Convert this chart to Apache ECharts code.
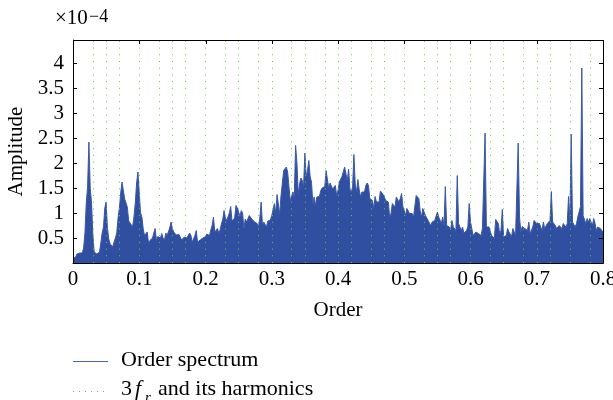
<!DOCTYPE html>
<html>
<head>
<meta charset="utf-8">
<script src="https://cdn.jsdelivr.net/npm/echarts@6/dist/echarts.min.js"></script>
<style>
  html, body { margin: 0; padding: 0; background: #fff; }
  #chart { width: 613px; height: 400px; }
</style>
</head>
<body>
<div id="chart"></div>
<script>
// Order spectrum amplitude (units of 1e-4), sampled every ORDER_STEP in order.
const ORDER_STEP = 0.002;

// orders 0.000 - 0.158
const ampBand1 = [
  0.09,0.1,0.12,0.18,0.15,0.2,0.22,0.2,0.3,0.6,
  1.2,1.52,2.42,1.5,1.2,0.55,0.22,0.2,0.18,0.2,
  0.22,0.4,0.6,0.72,1.1,1.22,0.7,0.48,0.38,0.34,
  0.33,0.42,0.5,0.6,0.9,1.1,1.4,1.62,1.45,1.28,
  1.25,1.12,0.85,0.8,0.78,0.73,0.92,1.2,1.6,1.82,
  1.4,1.0,0.92,0.68,0.55,0.52,0.62,0.4,0.45,0.44,
  0.5,0.6,0.69,0.45,0.53,0.5,0.5,0.59,0.5,0.45,
  0.6,0.55,0.53,0.7,0.82,0.69,0.62,0.59,0.56,0.58
];
// orders 0.160 - 0.318
const ampBand2 = [
  0.57,0.59,0.46,0.5,0.52,0.49,0.5,0.52,0.6,0.55,
  0.42,0.41,0.55,0.65,0.42,0.44,0.46,0.5,0.5,0.53,
  0.53,0.58,0.6,0.55,0.66,0.75,0.92,0.62,0.64,0.69,
  0.6,0.66,0.78,0.87,1.05,0.9,0.85,0.86,1.0,1.13,
  0.84,0.84,0.9,1.15,1.1,1.02,0.93,1.05,1.0,0.69,
  0.88,0.82,0.84,0.95,0.93,0.88,0.85,0.82,0.8,0.79,
  0.72,0.9,1.22,0.76,0.82,0.84,0.72,0.84,0.85,0.86,
  0.95,0.95,1.19,1.0,1.37,1.37,0.98,1.35,1.37,1.85
];
// orders 0.320 - 0.478
const ampBand3 = [
  1.88,1.92,1.82,1.52,1.25,1.27,1.42,1.32,2.35,2.0,
  1.38,1.58,1.7,1.65,1.53,2.2,1.72,1.85,2.05,1.72,
  1.62,1.19,1.32,1.15,1.32,1.32,1.33,1.45,1.5,1.52,
  1.53,1.85,1.85,1.5,1.6,1.58,1.48,1.52,1.55,1.35,
  1.45,1.62,1.65,1.73,1.73,1.92,1.88,1.65,1.88,1.48,
  1.42,1.5,2.17,1.58,1.42,1.67,1.47,1.32,1.42,1.45,
  1.42,1.55,1.6,1.55,1.29,1.31,1.25,1.09,1.33,1.22,
  1.19,1.22,1.44,1.4,1.37,1.32,1.25,1.24,1.22,0.92
];
// orders 0.480 - 0.638
const ampBand4 = [
  0.99,1.19,1.22,1.12,1.32,1.33,1.22,1.29,1.39,1.12,
  1.05,0.95,1.09,1.12,0.99,0.95,0.99,0.92,0.91,1.35,
  1.35,1.29,1.05,0.92,1.09,1.12,0.95,0.95,0.85,0.82,
  0.75,0.82,0.8,0.85,0.89,1.02,0.92,0.89,0.79,0.92,
  0.75,1.53,0.75,0.73,0.72,0.67,0.85,0.72,0.75,0.65,
  1.75,0.79,0.75,0.65,0.72,0.6,0.62,0.65,0.72,1.19,
  0.82,0.85,0.55,0.52,0.62,0.6,0.59,0.59,0.55,0.69,
  0.72,2.6,0.72,0.69,0.72,0.62,0.55,0.59,0.49,0.87
];
// orders 0.640 - 0.800
const ampBand5 = [
  0.85,0.79,0.59,0.65,1.07,0.52,0.49,0.55,0.69,0.62,
  0.65,0.53,0.69,0.65,0.55,0.52,2.4,0.92,0.62,0.73,
  0.72,0.69,0.72,0.65,0.82,0.59,0.6,0.72,0.85,0.89,
  0.79,0.75,0.79,0.75,0.65,0.82,0.69,0.65,0.79,0.75,
  0.85,1.43,0.82,0.79,0.75,0.69,0.69,0.75,0.72,0.69,
  0.79,0.75,0.72,0.79,1.33,0.85,2.58,0.82,0.79,0.72,
  0.79,0.92,0.95,1.13,3.9,0.95,0.99,0.79,0.89,0.82,
  0.89,0.85,0.75,0.89,0.79,0.65,0.72,0.75,0.69,0.65,
  0.62
];

// 3 f_r and its harmonics (order)
const harmonicOrders = [
  0.025,0.05,0.075,0.1,0.125,0.15,0.175,0.2,0.225,0.25,0.275,0.3,
  0.325,0.35,0.375,0.4,0.425,0.45,0.475,0.5,0.525,0.55,0.575,0.6,
  0.625,0.65,0.675,0.7,0.725,0.75,0.775,0.8
];

const xTicks = [0, 0.1, 0.2, 0.3, 0.4, 0.5, 0.6, 0.7, 0.8];
const yTicks = [0.5, 1, 1.5, 2, 2.5, 3, 3.5, 4];
const X_MAX = 0.8;
const Y_MAX = 4.46;

(() => {
  const amplitude = [].concat(ampBand1, ampBand2, ampBand3, ampBand4, ampBand5);
  const spectrum = amplitude.map((a, i) => [+(i * ORDER_STEP).toFixed(3), a]);

  const FONT = '"Liberation Serif", "DejaVu Serif", serif';
  const BLUE = '#304fa0';
  const GREEN = '#66c840';
  const FS = 21;
  const FS_LEGEND = 22;

  const isTick = (list, v) => list.some(t => Math.abs(t - v) < 1e-6);

  const chart = echarts.init(document.getElementById('chart'), null, { renderer: 'canvas' });
  chart.setOption({
    animation: false,
    grid: { left: 73, right: 10, top: 40, bottom: 137, outerBoundsMode: 'none', containLabel: false },
    xAxis: {
      type: 'value', position: 'bottom', min: 0, max: X_MAX, interval: 0.1,
      axisLine: { show: true, onZero: false, lineStyle: { color: '#000', width: 1 } },
      axisTick: { show: true, inside: true, length: 4, lineStyle: { color: '#000', width: 1 } },
      splitLine: { show: false },
      axisLabel: {
        show: true, fontFamily: FONT, fontSize: FS, color: '#000', margin: 6,
        formatter: v => isTick(xTicks, v) ? String(+v.toFixed(1)) : ''
      },
      name: 'Order', nameLocation: 'middle', nameGap: 37,
      nameTextStyle: { fontFamily: FONT, fontSize: FS, color: '#000' }
    },
    yAxis: {
      type: 'value', position: 'left', min: 0, max: Y_MAX, interval: 0.5,
      axisLine: { show: true, onZero: false, lineStyle: { color: '#000', width: 1 } },
      axisTick: { show: true, inside: true, length: 4, lineStyle: { color: '#000', width: 1 } },
      splitLine: { show: false },
      axisLabel: {
        show: true, fontFamily: FONT, fontSize: FS, color: '#000', margin: 9,
        formatter: v => isTick(yTicks, v) ? String(+v.toFixed(1)) : ''
      },
      name: 'Amplitude', nameLocation: 'middle', nameGap: 43, nameRotate: 90,
      nameTextStyle: { fontFamily: FONT, fontSize: FS, color: '#000' }
    },
    series: [
      {
        name: '3 f_r and its harmonics',
        type: 'line',
        data: [],
        z: 1,
        markLine: {
          silent: true,
          symbol: 'none',
          label: { show: false },
          lineStyle: { type: [1, 5.7], color: GREEN, width: 1 },
          data: harmonicOrders.map(o => ({ xAxis: o }))
        }
      },
      {
        name: 'Order spectrum',
        type: 'line',
        data: spectrum,
        symbol: 'none',
        z: 2,
        lineStyle: { color: '#3a58aa', width: 1 },
        areaStyle: { color: BLUE, opacity: 1 }
      }
    ]
  });

  // Plot frame (top/right edges with inward ticks), placed through the axis scales.
  const px = v => chart.convertToPixel({ xAxisIndex: 0 }, v);
  const py = v => chart.convertToPixel({ yAxisIndex: 0 }, v);
  const frameLeft = px(0), frameRight = px(X_MAX), frameBottom = py(0), frameTop = py(Y_MAX);
  const frame = [
    { type: 'rect', z: 100, silent: true,
      shape: { x: Math.round(frameLeft) + 0.5, y: Math.round(frameTop) + 0.5,
               width: Math.round(frameRight - frameLeft), height: Math.round(frameBottom - frameTop) },
      style: { fill: 'none', stroke: '#000', lineWidth: 1 } }
  ];
  xTicks.forEach(v => {
    const x = Math.round(px(v)) + 0.5;
    frame.push({ type: 'line', z: 100, silent: true, shape: { x1: x, y1: frameTop, x2: x, y2: frameTop + 4 }, style: { stroke: '#000', lineWidth: 1 } });
  });
  yTicks.forEach(v => {
    const y = Math.round(py(v)) + 0.5;
    frame.push({ type: 'line', z: 100, silent: true, shape: { x1: frameRight - 4, y1: y, x2: frameRight, y2: y }, style: { stroke: '#000', lineWidth: 1 } });
  });

  const legendAndLabels = [
    // axis multiplier
    { type: 'text', x: 55, y: 29, style: { text: '\u00d710', font: `${FS}px ${FONT}`, fill: '#000', textVerticalAlign: 'bottom', verticalAlign: 'bottom' } },
    { type: 'text', x: 89, y: 26, style: { text: '\u22124', font: `18px ${FONT}`, fill: '#000', textVerticalAlign: 'bottom', verticalAlign: 'bottom' } },
    // legend
    { type: 'line', shape: { x1: 73, y1: 361.5, x2: 108, y2: 361.5 }, style: { stroke: '#4a66b0', lineWidth: 1.2 } },
    { type: 'text', x: 121, y: 360, style: { text: 'Order spectrum', font: `${FS_LEGEND}px ${FONT}`, fill: '#000', textVerticalAlign: 'middle', verticalAlign: 'middle' } },
    { type: 'line', shape: { x1: 73, y1: 391.5, x2: 108, y2: 391.5 }, style: { stroke: GREEN, lineWidth: 1, lineDash: [1, 5] } },
    { type: 'text', x: 121, y: 389, style: { text: '3', font: `${FS_LEGEND}px ${FONT}`, fill: '#000', textVerticalAlign: 'middle', verticalAlign: 'middle' } },
    { type: 'text', x: 135, y: 389, style: { text: 'f', font: `italic ${FS_LEGEND}px ${FONT}`, fill: '#000', textVerticalAlign: 'middle', verticalAlign: 'middle' } },
    { type: 'text', x: 145, y: 398, style: { text: 'r', font: `italic 15px ${FONT}`, fill: '#000', textVerticalAlign: 'middle', verticalAlign: 'middle' } },
    { type: 'text', x: 158, y: 389, style: { text: 'and its harmonics', font: `${FS_LEGEND}px ${FONT}`, fill: '#000', textVerticalAlign: 'middle', verticalAlign: 'middle' } }
  ];

  chart.setOption({ graphic: frame.concat(legendAndLabels) });
})();
</script>
</body>
</html>
